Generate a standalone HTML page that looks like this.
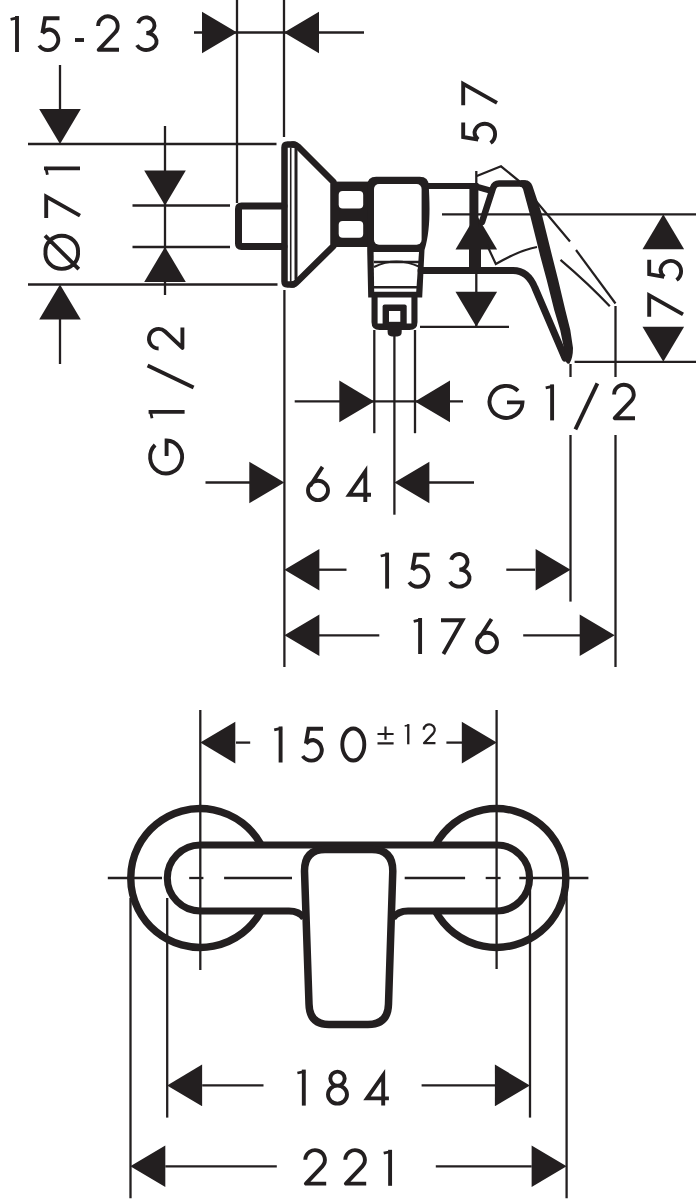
<!DOCTYPE html>
<html><head><meta charset="utf-8"><title>Drawing</title>
<style>html,body{margin:0;padding:0;background:#fff;} svg{display:block;}</style>
</head><body>
<svg width="696" height="1200" viewBox="0 0 696 1200">
<rect width="696" height="1200" fill="#fff"/>
<g stroke="#231f20" fill="none" stroke-linecap="butt">
<line x1="237" y1="0" x2="237" y2="203" stroke-width="2.3"/>
<line x1="284" y1="0" x2="284" y2="137" stroke-width="2.3"/>
<line x1="194" y1="32.5" x2="364" y2="32.5" stroke-width="2.3"/>
<line x1="28" y1="144" x2="276.5" y2="144" stroke-width="2.3"/>
<line x1="28" y1="284.5" x2="277.5" y2="284.5" stroke-width="2.3"/>
<line x1="60" y1="65" x2="60" y2="110" stroke-width="2.3"/>
<line x1="60" y1="318" x2="60" y2="364" stroke-width="2.3"/>
<line x1="165" y1="126" x2="165" y2="295" stroke-width="2.3"/>
<line x1="132.5" y1="205.5" x2="230" y2="205.5" stroke-width="2.3"/>
<line x1="132.5" y1="247" x2="230" y2="247" stroke-width="2.3"/>
<line x1="476.3" y1="171" x2="476.3" y2="326.8" stroke-width="2.3"/>
<line x1="442" y1="214.4" x2="696" y2="214.4" stroke-width="2.3"/>
<line x1="420" y1="326.8" x2="509" y2="326.8" stroke-width="2.3"/>
<line x1="574.6" y1="361.8" x2="696" y2="361.8" stroke-width="2.3"/>
<line x1="374.3" y1="330" x2="374.3" y2="433.2" stroke-width="2.3"/>
<line x1="415" y1="330" x2="415" y2="433.2" stroke-width="2.3"/>
<line x1="394.4" y1="334" x2="394.4" y2="514.7" stroke-width="2.3"/>
<line x1="294.7" y1="401.4" x2="463" y2="401.4" stroke-width="2.3"/>
<line x1="284.4" y1="290" x2="284.4" y2="667" stroke-width="2.3"/>
<line x1="205.5" y1="482.5" x2="250" y2="482.5" stroke-width="2.3"/>
<line x1="428" y1="482.5" x2="474" y2="482.5" stroke-width="2.3"/>
<line x1="319" y1="569.7" x2="346.5" y2="569.7" stroke-width="2.3"/>
<line x1="506.3" y1="569.7" x2="535" y2="569.7" stroke-width="2.3"/>
<line x1="570.5" y1="364" x2="570.5" y2="377" stroke-width="2.3"/>
<line x1="570.5" y1="435" x2="570.5" y2="601.6" stroke-width="2.3"/>
<line x1="615.5" y1="306" x2="615.5" y2="377" stroke-width="2.3"/>
<line x1="615.5" y1="435" x2="615.5" y2="667" stroke-width="2.3"/>
<line x1="319" y1="635.3" x2="379.3" y2="635.3" stroke-width="2.3"/>
<line x1="523.2" y1="635.3" x2="581" y2="635.3" stroke-width="2.3"/>
<line x1="200.3" y1="710" x2="200.3" y2="970" stroke-width="2.3"/>
<line x1="496.6" y1="710" x2="496.6" y2="969" stroke-width="2.3"/>
<line x1="236" y1="742.6" x2="250.2" y2="742.6" stroke-width="2.3"/>
<line x1="446.4" y1="742.6" x2="462" y2="742.6" stroke-width="2.3"/>
<line x1="107.8" y1="878" x2="162" y2="878" stroke-width="2.3"/>
<line x1="189.2" y1="878" x2="203.4" y2="878" stroke-width="2.3"/>
<line x1="224.1" y1="878" x2="292" y2="878" stroke-width="2.3"/>
<line x1="404.7" y1="878" x2="465.1" y2="878" stroke-width="2.3"/>
<line x1="485.7" y1="878" x2="500.6" y2="878" stroke-width="2.3"/>
<line x1="519.3" y1="878" x2="588.4" y2="878" stroke-width="2.3"/>
<line x1="130.5" y1="898" x2="130.5" y2="1198.3" stroke-width="2.3"/>
<line x1="167.2" y1="898" x2="167.2" y2="1117.6" stroke-width="2.3"/>
<line x1="530" y1="888" x2="530" y2="1117.6" stroke-width="2.3"/>
<line x1="566.6" y1="888" x2="566.6" y2="1198.3" stroke-width="2.3"/>
<line x1="202.2" y1="1085.4" x2="263.5" y2="1085.4" stroke-width="2.3"/>
<line x1="421.6" y1="1085.4" x2="495" y2="1085.4" stroke-width="2.3"/>
<line x1="165.3" y1="1166.3" x2="276.8" y2="1166.3" stroke-width="2.3"/>
<line x1="435.8" y1="1166.3" x2="531.7" y2="1166.3" stroke-width="2.3"/>
</g>
<g fill="#231f20" stroke="none">
<polygon points="237.0,32.5 202.0,11.7 202.0,53.3"/>
<polygon points="284.0,32.5 319.0,11.7 319.0,53.3"/>
<polygon points="60.0,144.0 39.2,109.0 80.8,109.0"/>
<polygon points="60.0,284.5 39.2,319.5 80.8,319.5"/>
<polygon points="165.0,205.5 144.2,170.5 185.8,170.5"/>
<polygon points="165.0,247.0 144.2,282.0 185.8,282.0"/>
<polygon points="476.3,214.5 455.5,249.5 497.1,249.5"/>
<polygon points="476.3,326.8 455.5,291.8 497.1,291.8"/>
<polygon points="663.3,214.2 642.5,249.2 684.1,249.2"/>
<polygon points="663.3,361.8 642.5,326.8 684.1,326.8"/>
<polygon points="374.3,401.4 339.3,380.6 339.3,422.2"/>
<polygon points="415.0,401.4 450.0,380.6 450.0,422.2"/>
<polygon points="284.3,482.5 249.3,461.7 249.3,503.3"/>
<polygon points="394.4,482.5 429.4,461.7 429.4,503.3"/>
<polygon points="284.4,569.7 319.4,548.9 319.4,590.5"/>
<polygon points="570.6,569.7 535.6,548.9 535.6,590.5"/>
<polygon points="284.4,635.3 319.4,614.5 319.4,656.1"/>
<polygon points="614.7,635.3 579.7,614.5 579.7,656.1"/>
<polygon points="200.3,742.6 235.3,721.8 235.3,763.4"/>
<polygon points="496.8,742.6 461.8,721.8 461.8,763.4"/>
<polygon points="167.1,1085.4 202.1,1064.6 202.1,1106.2"/>
<polygon points="529.9,1085.4 494.9,1064.6 494.9,1106.2"/>
<polygon points="130.3,1166.3 165.3,1145.5 165.3,1187.1"/>
<polygon points="566.6,1166.3 531.6,1145.5 531.6,1187.1"/>
</g>
<g stroke="#231f20" fill="none" stroke-linecap="butt" stroke-linejoin="miter">
<path transform="translate(9.4,52)" d="M7.6,-36 V0" stroke-width="3.90"/>
<path transform="translate(9.4,52)" d="M9,-34.3 L1.2,-32.6" stroke-width="2.81"/>
<path transform="translate(37,52)" d="M22.5,-33.8 H8 L5.4,-18.8 M5.4,-18.8 C7.5,-21.3 10,-22.5 12.8,-22.5 A10.4,10.4 0 1 1 2.2,-6.5" stroke-width="3.90"/>
<path transform="translate(75,52)" d="M0,-12 H9" stroke-width="3.90"/>
<path transform="translate(95.5,52)" d="M2.6,-26 A9.8,9.6 0 1 1 19.6,-19.5 L3.2,-2.2 H23.5" stroke-width="3.90" stroke-linejoin="round"/>
<path transform="translate(135,52)" d="M3.2,-28.8 A8.3,7.8 0 1 1 11.3,-19 A10.3,8.5 0 1 1 1.97,-6.9" stroke-width="3.90"/>
<path transform="translate(488,420.4)" d="M30,-29.5 A16.5,16 0 1 0 34.5,-18 H19" stroke-width="3.90"/>
<path transform="translate(544.5,420.4)" d="M7.6,-36 V0" stroke-width="3.90"/>
<path transform="translate(544.5,420.4)" d="M9,-34.3 L1.2,-32.6" stroke-width="2.81"/>
<path transform="translate(573.4,420.4)" d="M2,9 L24,-37" stroke-width="3.90"/>
<path transform="translate(611.5,420.4)" d="M2.6,-26 A9.8,9.6 0 1 1 19.6,-19.5 L3.2,-2.2 H23.5" stroke-width="3.90" stroke-linejoin="round"/>
<path transform="translate(306,501.9)" d="M16.5,-35 L4.2,-16 M22,-11.5 A10,9.7 0 1 1 2,-11.5 A10,9.7 0 1 1 22,-11.5" stroke-width="3.90"/>
<path transform="translate(345.5,501.9)" d="M19.8,0 V-30.5 L3.6,-7.2 H25.5" stroke-width="3.90"/>
<path transform="translate(379.5,588.6)" d="M7.6,-36 V0" stroke-width="3.90"/>
<path transform="translate(379.5,588.6)" d="M9,-34.3 L1.2,-32.6" stroke-width="2.81"/>
<path transform="translate(407,588.6)" d="M22.5,-33.8 H8 L5.4,-18.8 M5.4,-18.8 C7.5,-21.3 10,-22.5 12.8,-22.5 A10.4,10.4 0 1 1 2.2,-6.5" stroke-width="3.90"/>
<path transform="translate(448,588.6)" d="M3.2,-28.8 A8.3,7.8 0 1 1 11.3,-19 A10.3,8.5 0 1 1 1.97,-6.9" stroke-width="3.90"/>
<path transform="translate(412.5,654)" d="M7.6,-36 V0" stroke-width="3.90"/>
<path transform="translate(412.5,654)" d="M9,-34.3 L1.2,-32.6" stroke-width="2.81"/>
<path transform="translate(441,654)" d="M0,-33.8 H21.5 L2.4,0" stroke-width="3.90"/>
<path transform="translate(475,654)" d="M16.5,-35 L4.2,-16 M22,-11.5 A10,9.7 0 1 1 2,-11.5 A10,9.7 0 1 1 22,-11.5" stroke-width="3.90"/>
<path transform="translate(273,762.5)" d="M7.6,-36 V0" stroke-width="3.90"/>
<path transform="translate(273,762.5)" d="M9,-34.3 L1.2,-32.6" stroke-width="2.81"/>
<path transform="translate(300.5,762.5)" d="M22.5,-33.8 H8 L5.4,-18.8 M5.4,-18.8 C7.5,-21.3 10,-22.5 12.8,-22.5 A10.4,10.4 0 1 1 2.2,-6.5" stroke-width="3.90"/>
<path transform="translate(340.3,762.5)" d="M13,-34 A11,16 0 1 1 13,-2 A11,16 0 1 1 13,-34 Z" stroke-width="3.90"/>
<path d="M385.5,726.5 V739.7 M377.5,734 H393.6 M377.5,743.4 H393.6" stroke-width="2.2"/>
<path transform="translate(404,744.3) scale(0.56)" d="M7.6,-36 V0" stroke-width="4.11"/>
<path transform="translate(404,744.3) scale(0.56)" d="M9,-34.3 L1.2,-32.6" stroke-width="2.96"/>
<path transform="translate(422.3,744.3) scale(0.56)" d="M2.6,-26 A9.8,9.6 0 1 1 19.6,-19.5 L3.2,-2.2 H23.5" stroke-width="4.11" stroke-linejoin="round"/>
<path transform="translate(296.2,1105.6)" d="M7.6,-36 V0" stroke-width="3.90"/>
<path transform="translate(296.2,1105.6)" d="M9,-34.3 L1.2,-32.6" stroke-width="2.81"/>
<path transform="translate(326,1105.6)" d="M11.5,-20 A7.2,7 0 1 1 11.5,-34 A7.2,7 0 1 1 11.5,-20 Z M11.5,-20 A9.5,9 0 1 1 11.5,-2 A9.5,9 0 1 1 11.5,-20 Z" stroke-width="3.90"/>
<path transform="translate(363.4,1105.6)" d="M19.8,0 V-30.5 L3.6,-7.2 H25.5" stroke-width="3.90"/>
<path transform="translate(302.7,1185.8)" d="M2.6,-26 A9.8,9.6 0 1 1 19.6,-19.5 L3.2,-2.2 H23.5" stroke-width="3.90" stroke-linejoin="round"/>
<path transform="translate(342.7,1185.8)" d="M2.6,-26 A9.8,9.6 0 1 1 19.6,-19.5 L3.2,-2.2 H23.5" stroke-width="3.90" stroke-linejoin="round"/>
<path transform="translate(382.5,1185.8)" d="M7.6,-36 V0" stroke-width="3.90"/>
<path transform="translate(382.5,1185.8)" d="M9,-34.3 L1.2,-32.6" stroke-width="2.81"/>
<path transform="translate(497,145) rotate(-90)" d="M22.5,-33.8 H8 L5.4,-18.8 M5.4,-18.8 C7.5,-21.3 10,-22.5 12.8,-22.5 A10.4,10.4 0 1 1 2.2,-6.5" stroke-width="3.90"/>
<path transform="translate(497,105.3) rotate(-90)" d="M0,-33.8 H21.5 L2.4,0" stroke-width="3.90"/>
<path transform="translate(80,270.6) rotate(-90)" d="M18.3,-34.5 A15.4,16.3 0 1 1 18.3,-2 A15.4,16.3 0 1 1 18.3,-34.5 Z M35,-35 L1.5,-1.2" stroke-width="3.90"/>
<path transform="translate(80,218) rotate(-90)" d="M0,-33.8 H21.5 L2.4,0" stroke-width="3.90"/>
<path transform="translate(80,176) rotate(-90)" d="M7.6,-36 V0" stroke-width="3.90"/>
<path transform="translate(80,176) rotate(-90)" d="M9,-34.3 L1.2,-32.6" stroke-width="2.81"/>
<path transform="translate(683,316.8) rotate(-90)" d="M0,-33.8 H21.5 L2.4,0" stroke-width="3.90"/>
<path transform="translate(683,282.2) rotate(-90)" d="M22.5,-33.8 H8 L5.4,-18.8 M5.4,-18.8 C7.5,-21.3 10,-22.5 12.8,-22.5 A10.4,10.4 0 1 1 2.2,-6.5" stroke-width="3.90"/>
<path transform="translate(184.6,475) rotate(-90)" d="M30,-29.5 A16.5,16 0 1 0 34.5,-18 H19" stroke-width="3.90"/>
<path transform="translate(184.6,419.5) rotate(-90)" d="M7.6,-36 V0" stroke-width="3.90"/>
<path transform="translate(184.6,419.5) rotate(-90)" d="M9,-34.3 L1.2,-32.6" stroke-width="2.81"/>
<path transform="translate(184.6,389.4) rotate(-90)" d="M2,9 L24,-37" stroke-width="3.90"/>
<path transform="translate(184.6,351.1) rotate(-90)" d="M2.6,-26 A9.8,9.6 0 1 1 19.6,-19.5 L3.2,-2.2 H23.5" stroke-width="3.90" stroke-linejoin="round"/>
</g>
<g stroke="#231f20" fill="none" stroke-linejoin="round" stroke-linecap="round">
<path d="M284,206 H241.5 Q238.5,206 238.5,209 V243.5 Q238.5,246.5 241.5,246.5 H284" stroke-width="7"/>
<path d="M294,144.5 H287.5 Q284.5,144.5 284.5,147.5 V281.5 Q284.5,284.5 287.5,284.5 H293" stroke-width="6.5"/>
<path d="M293,144.5 Q296,144.5 298,146.5 L333.5,182 V246 L297.5,281.5 Q295,284.5 292,284.5" stroke-width="6.5"/>
<path d="M290.7,148 V281" stroke-width="1.6"/>
<path d="M296,148 V279" stroke-width="3"/>
</g>
<rect x="333" y="181.6" width="38" height="65.4" fill="#231f20"/>
<rect x="338.7" y="191" width="24.5" height="17.4" rx="4" fill="#fff"/>
<rect x="338.7" y="221" width="24.5" height="16.7" rx="4" fill="#fff"/>
<path d="M376,176.8 H419.7 Q428.7,176.8 428.7,185.8 C430,205 430.5,232 424.5,250 L422.2,297.5 H368.2 L367.2,251 V185.8 Q367.2,176.8 376.2,176.8 Z" fill="#231f20"/>
<rect x="374" y="184" width="47.6" height="60.8" rx="5" fill="#fff"/>
<path d="M373.6,252 L419,252 L416.2,291.7 L374.2,291.7 Z" fill="#fff"/>
<g stroke="#231f20" fill="none">
<path d="M374,262 H421" stroke-width="2.4"/>
<path d="M374,267 Q396,256 420,267" stroke-width="2"/>
<path d="M374,287.2 H417" stroke-width="2.4"/>
</g>
<path d="M371.5,297 V322 Q371.5,330 379.5,330 H409.5 Q417.5,330 417.5,322 V297 Z" fill="#231f20"/>
<rect x="377.6" y="297.5" width="33.8" height="26" fill="#fff"/>
<rect x="382.6" y="304.6" width="24.1" height="22" rx="2" fill="#231f20"/>
<rect x="389" y="311" width="11.3" height="10.8" fill="#fff"/>
<path d="M387.6,328 H401.7 V332 Q401.7,336.4 397.3,336.4 H392 Q387.6,336.4 387.6,332 Z" fill="#231f20"/>
<g stroke="#231f20" fill="none" stroke-linejoin="round" stroke-linecap="round">
<path d="M428,186 H474 L491.8,191" stroke-width="6"/>
<path d="M421,270.4 H513 Q528,270.4 535,288 L565,358" stroke-width="7"/>
<path d="M482,222 L493,188 Q494.5,183.5 499,183.5 H524" stroke-width="6.5"/>
</g>
<path d="M521,180.2 H525 Q530.5,180.2 532.5,186 L541.5,213 L552.4,257 L558.2,280 L565.3,310 L570.3,330 L573,348 Q573,358 569.5,363.5 Q566.5,365 564.5,358 L564.3,350 L560.2,330 L554.2,310 L549.2,290 L546.7,280 L540.5,257 L529.5,213 L523,189 Q522,186.8 520,186.8 Z" fill="#231f20"/>
<g stroke="#231f20" fill="none" stroke-linejoin="round" stroke-linecap="round">
</g>
<rect x="469.4" y="183" width="9" height="44" fill="#231f20"/>
<rect x="469" y="248" width="12" height="22.5" fill="#231f20"/>
<g stroke="#231f20" fill="none" stroke-width="2.2" stroke-linejoin="miter">
<path d="M476.8,176 L501,166.3 L519.4,181.3 L570,241.5"/>
<path d="M576,250 L615.5,303.5"/>
<path d="M487,245 L495.8,264 Q520,250 537,247"/>
<path d="M560.5,259.8 Q590,285 609.8,306.3"/>
</g>
<g stroke="#231f20" fill="none" stroke-linejoin="round" stroke-linecap="butt">
<path d="M261.2,845 A69.4,69.4 0 1 0 261.2,911" stroke-width="7.4"/>
<path d="M435.4,845 A69.4,69.4 0 1 1 435.4,911" stroke-width="7.4"/>
<path d="M200.3,845 H496.6 A33,33 0 0 1 496.6,911 H408 Q398,911 393,918" stroke-width="7.1"/>
<path d="M200.3,845 A33,33 0 0 0 200.3,911 H289 Q299,911 304,918" stroke-width="7.1"/>
<path d="M325,849.5 H372 Q392.8,849.5 392.8,871 L388.5,1004 Q388,1024.5 368,1024.5 H329 Q309.5,1024.5 309,1004 L304.5,871 Q304.5,849.5 325,849.5 Z" stroke-width="7.5"/>
</g>
</svg>
</body></html>
